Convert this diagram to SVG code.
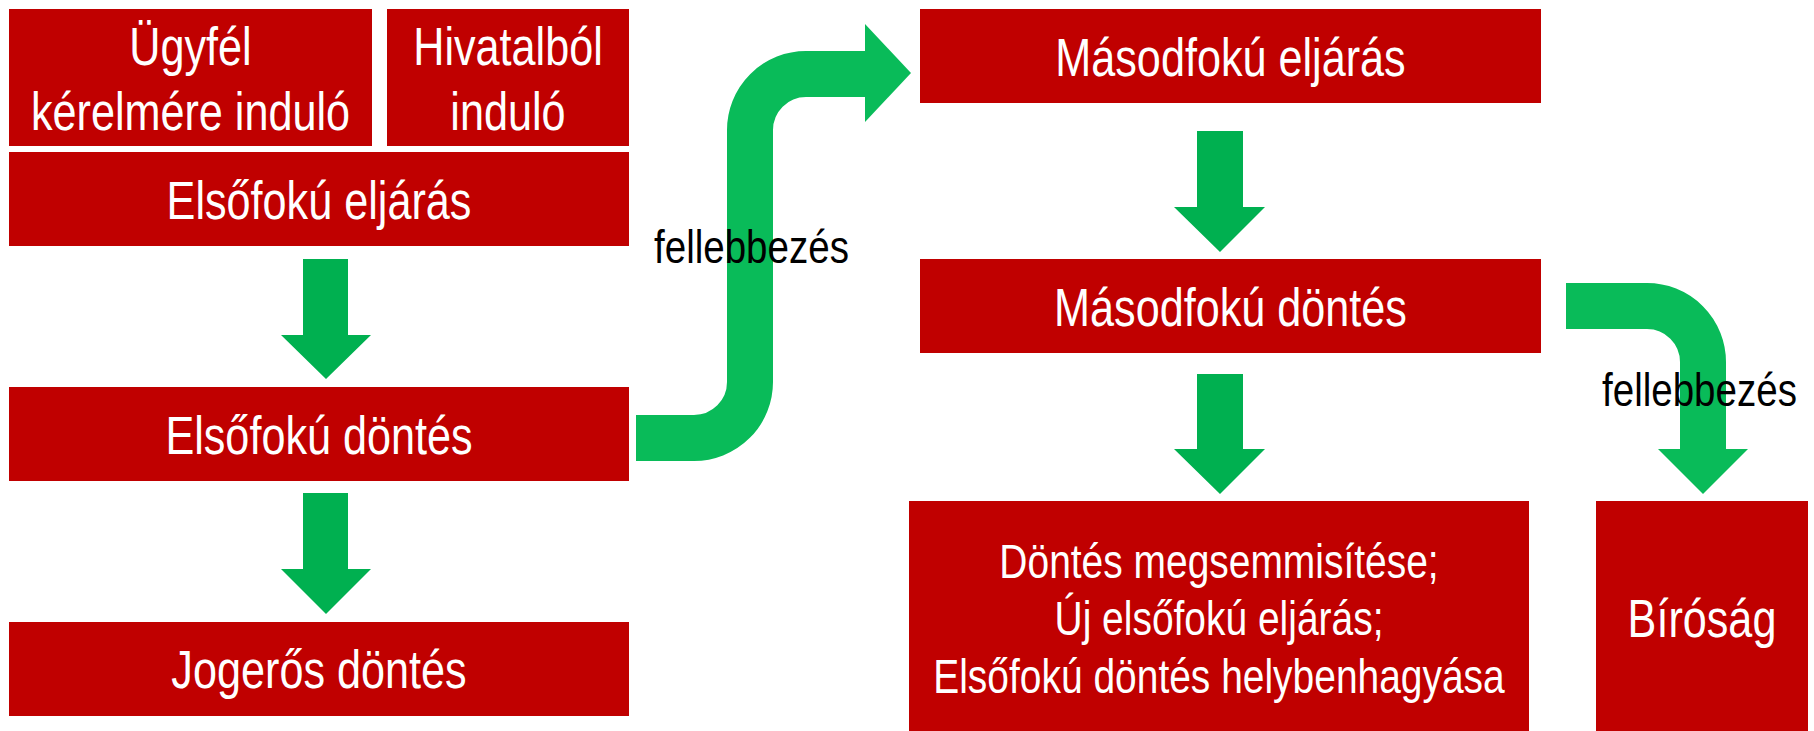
<svg xmlns="http://www.w3.org/2000/svg" width="1814" height="731" viewBox="0 0 1814 731">
<style>
.box{fill:#C00000}
.t{font-family:"Liberation Sans",Arial,sans-serif;fill:#FFFFFF;text-anchor:middle;font-size:53px}
.ts{font-size:47.5px}
.lbl{font-family:"Liberation Sans",Arial,sans-serif;fill:#000000;text-anchor:start;font-size:47px}
.arr{fill:#00B050}
.bend{fill:none;stroke:#09BB59;stroke-width:46;stroke-linecap:butt}
.bhead{fill:#09BB59}
</style>
<rect width="1814" height="731" fill="#FFFFFF"/>
<g id="connectors">
<polygon class="arr" points="303,259 348,259 348,335 371,335 326,379 281,335 303,335"/>
<polygon class="arr" points="303,493 348,493 348,569 371,569 326,614 281,569 303,569"/>
<polygon class="arr" points="1197,131 1243,131 1243,207 1265,207 1220,252 1174,207 1197,207"/>
<polygon class="arr" points="1197,374 1243,374 1243,449 1265,449 1220,494 1174,449 1197,449"/>
<path class="bend" d="M636,438 H694 A56,56 0 0 0 750,382 V130 A56,56 0 0 1 806,74 H866"/>
<polygon class="bhead" points="865,24 911,73 865,122"/>
<path class="bend" d="M1566,306 H1647 A56,56 0 0 1 1703,362 V450"/>
<polygon class="bhead" points="1658,449 1748,449 1703,494"/>
<text class="lbl" transform="translate(654,263) scale(0.82 1)">fellebbezés</text>
<text class="lbl" transform="translate(1602,406) scale(0.82 1)">fellebbezés</text>
</g>
<g id="ugyfel">
<rect class="box" x="9" y="9" width="363" height="137"/>
<text class="t" transform="translate(190.5,65) scale(0.815 1)">Ügyfél</text>
<text class="t" transform="translate(190.5,130) scale(0.815 1)">kérelmére induló</text>
</g>
<g id="hivatalbol">
<rect class="box" x="387" y="9" width="242" height="137"/>
<text class="t" transform="translate(508,65) scale(0.815 1)">Hivatalból</text>
<text class="t" transform="translate(508,130) scale(0.815 1)">induló</text>
</g>
<g id="elsofoku-eljaras">
<rect class="box" x="9" y="152" width="620" height="94"/>
<text class="t" transform="translate(319,219) scale(0.815 1)">Elsőfokú eljárás</text>
</g>
<g id="elsofoku-dontes">
<rect class="box" x="9" y="387" width="620" height="94"/>
<text class="t" transform="translate(319,454) scale(0.815 1)">Elsőfokú döntés</text>
</g>
<g id="jogeros-dontes">
<rect class="box" x="9" y="622" width="620" height="94"/>
<text class="t" transform="translate(319,688) scale(0.815 1)">Jogerős döntés</text>
</g>
<g id="masodfoku-eljaras">
<rect class="box" x="920" y="9" width="621" height="94"/>
<text class="t" transform="translate(1230.5,76) scale(0.815 1)">Másodfokú eljárás</text>
</g>
<g id="masodfoku-dontes">
<rect class="box" x="920" y="259" width="621" height="94"/>
<text class="t" transform="translate(1230.5,326) scale(0.815 1)">Másodfokú döntés</text>
</g>
<g id="dontes-megsemmisitese">
<rect class="box" x="909" y="501" width="620" height="230"/>
<text class="t ts" transform="translate(1219,578) scale(0.82 1)">Döntés megsemmisítése;</text>
<text class="t ts" transform="translate(1219,635) scale(0.82 1)">Új elsőfokú eljárás;</text>
<text class="t ts" transform="translate(1219,693) scale(0.82 1)">Elsőfokú döntés helybenhagyása</text>
</g>
<g id="birosag">
<rect class="box" x="1596" y="501" width="212" height="230"/>
<text class="t" transform="translate(1702,637) scale(0.815 1)">Bíróság</text>
</g>
</svg>
